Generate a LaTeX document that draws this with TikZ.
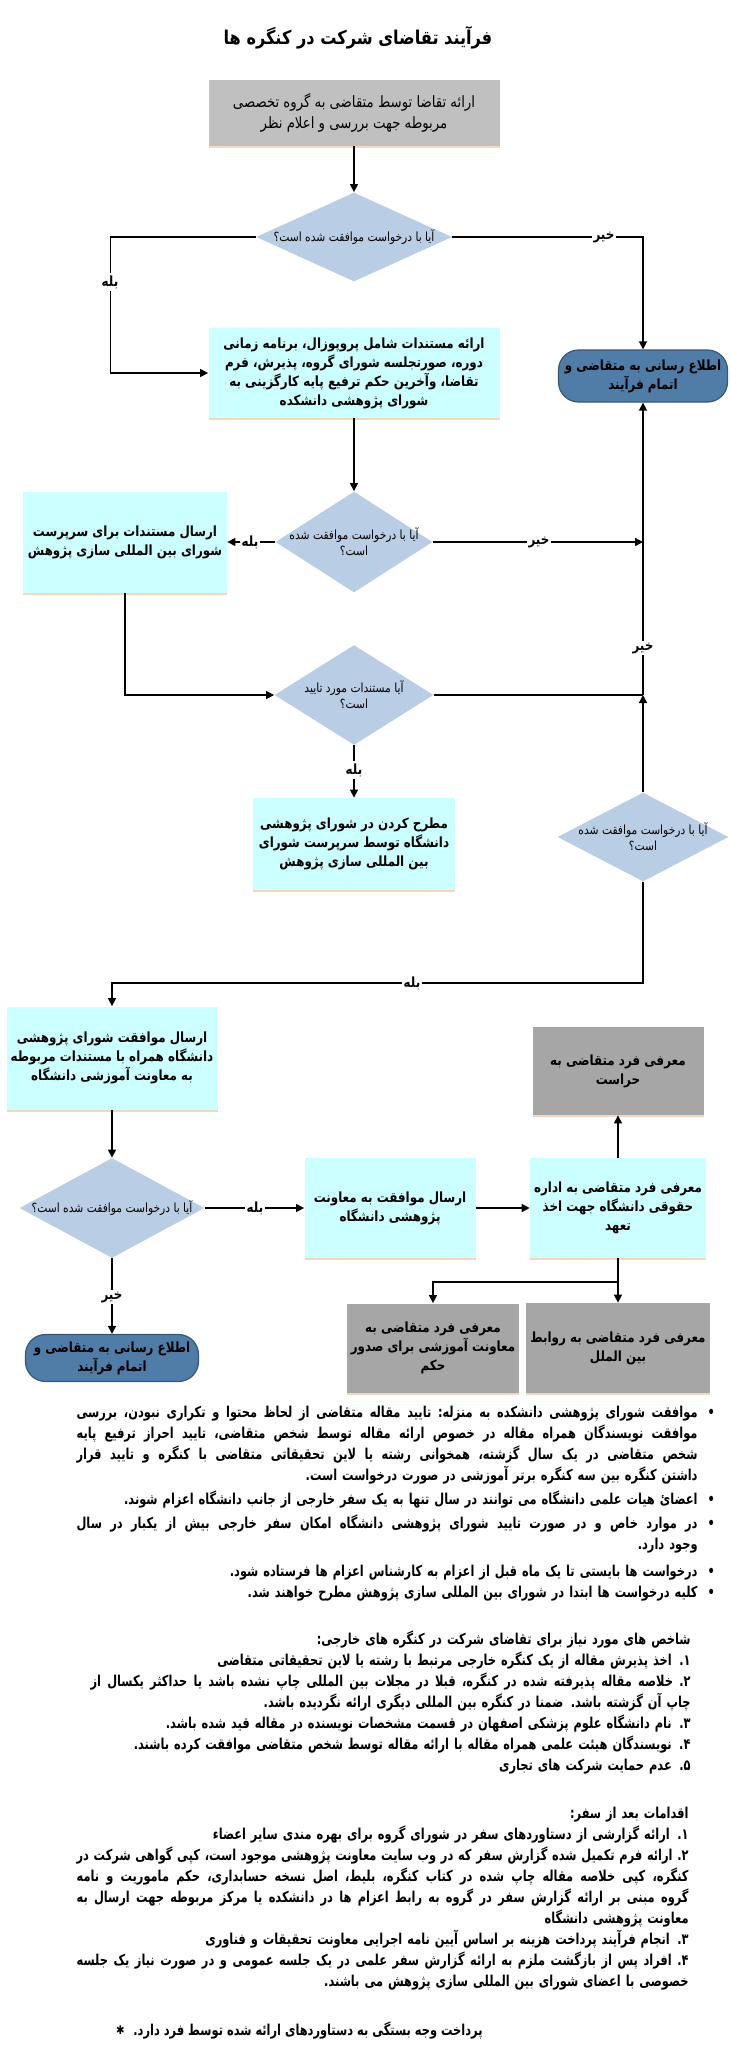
\documentclass[tikz,border=0pt]{standalone}
\usepackage{fontspec}
\usepackage{tikz}
\usetikzlibrary{arrows.meta,positioning,shapes.geometric,calc,shadows}
\TeXXeTstate=1
\newfontfamily\fafont[Script=Arabic,FakeStretch=0.85]{DejaVu Sans}
\newfontfamily\notefont[Script=Arabic,FakeStretch=0.76]{DejaVu Sans}
\definecolor{boxcyan}{RGB}{204,255,255}
\definecolor{boxgray}{RGB}{192,192,192}
\definecolor{boxdark}{RGB}{166,166,166}
\definecolor{diamondblue}{RGB}{185,205,229}
\definecolor{endblue}{RGB}{79,125,168}
\definecolor{shadowpeach}{RGB}{248,214,190}
\newcommand{\fa}[1]{\beginR #1\endR}
\newcommand{\fj}[1]{\noindent\hbox to\hsize{\spaceskip=\fontdimen2\font plus 1fil minus 0.5\fontdimen2\font
  \xspaceskip=\spaceskip\beginR #1\endR}}
\newcommand{\bul}{\rlap{\hspace{5pt}\textbullet}}
\tikzset{
  boxbase/.style={rectangle, align=center, inner sep=2pt,
                  font=\fafont\bfseries\fontsize{7}{9.5}\selectfont,
                  drop shadow={shadow xshift=0pt, shadow yshift=-1pt, fill=shadowpeach, opacity=1}},
  cyanbox/.style={boxbase, fill=boxcyan},
  graybox/.style={boxbase, fill=boxgray, font=\fafont\fontsize{7.8}{10.5}\selectfont},
  darkbox/.style={boxbase, fill=boxdark},
  decision/.style={diamond, fill=diamondblue, inner sep=0pt, inner xsep=-6pt, align=center,
                   font=\fafont\fontsize{6.3}{8}\selectfont},
  endbox/.style={rectangle, rounded corners=10pt, fill=endblue, draw=endblue!70!black,
                 line width=0.6pt, align=center, inner sep=1pt,
                 font=\fafont\bfseries\fontsize{7}{9.5}\selectfont},
  tag/.style={fill=white, inner sep=1pt, font=\fafont\bfseries\fontsize{7}{8}\selectfont},
  flow/.style={line width=0.7pt, -{Triangle[length=4pt,width=4pt]}},
  link/.style={line width=0.7pt},
  notes/.style={align=right, inner sep=0pt, anchor=north east,
                font=\notefont\bfseries\fontsize{7.5}{10.5}\selectfont},
}
\begin{document}
\begin{tikzpicture}[x=0.5pt, y=-0.5pt]
\useasboundingbox (0,0) rectangle (731,2047);

\node[font=\fafont\bfseries\fontsize{9.5}{12}\selectfont] (title) at (358,38) {\fa{فرآیند تقاضای شرکت در کنگره ها}};

% main column
\node[graybox, minimum width=145.5pt, minimum height=33pt] (req) at (354,113)
  {\fa{ارائه تقاضا توسط متقاضی به گروه تخصصی}\\\fa{مربوطه جهت بررسی و اعلام نظر}};
\node[decision, minimum width=98pt, minimum height=44.5pt, aspect=2.2] (d1) at (354,237)
  {\fa{آیا با درخواست موافقت شده است؟}};
\node[cyanbox, minimum width=145.5pt, minimum height=45pt] (docs) at (354,373)
  {\fa{ارائه مستندات شامل پروپوزال، برنامه زمانی}\\\fa{دوره، صورتجلسه شورای گروه، پذیرش، فرم}\\\fa{تقاضا، وآخرین حکم ترفیع پایه کارگزینی به}\\\fa{شورای پژوهشی دانشکده}};
\node[endbox, minimum width=84.5pt, minimum height=26pt] (end1) at (643,376)
  {\fa{اطلاع رسانی به متقاضی و}\\\fa{اتمام فرآیند}};
\node[decision, minimum width=78.5pt, minimum height=50.5pt, aspect=1.55] (d2) at (354,542)
  {\fa{آیا با درخواست موافقت شده}\\\fa{است؟}};
\node[cyanbox, minimum width=102pt, minimum height=50.5pt] (super) at (125,542)
  {\fa{ارسال مستندات برای سرپرست}\\\fa{شورای بین المللی سازی پژوهش}};
\node[decision, minimum width=79.5pt, minimum height=50pt, aspect=1.6] (d3) at (354,695)
  {\fa{آیا مستندات مورد تایید}\\\fa{است؟}};
\node[cyanbox, minimum width=101pt, minimum height=46pt] (council) at (354,844)
  {\fa{مطرح کردن در شورای پژوهشی}\\\fa{دانشگاه توسط سرپرست شورای}\\\fa{بین المللی سازی پژوهش}};
\node[decision, minimum width=85.5pt, minimum height=44.5pt, aspect=1.9] (d4) at (643,837)
  {\fa{آیا با درخواست موافقت شده}\\\fa{است؟}};

% lower part
\node[cyanbox, minimum width=105.5pt, minimum height=51.5pt] (send) at (112,1058)
  {\fa{ارسال موافقت شورای پژوهشی}\\\fa{دانشگاه همراه با مستندات مربوطه}\\\fa{به معاونت آموزشی دانشگاه}};
\node[darkbox, minimum width=85.5pt, minimum height=44pt] (guard) at (618,1071)
  {\fa{معرفی فرد متقاضی به}\\\fa{حراست}};
\node[decision, minimum width=92.5pt, minimum height=50pt, aspect=1.85] (d5) at (112,1208)
  {\fa{آیا با درخواست موافقت شده است؟}};
\node[cyanbox, minimum width=85.5pt, minimum height=50pt] (vice) at (390,1208)
  {\fa{ارسال موافقت به معاونت}\\\fa{پژوهشی دانشگاه}};
\node[cyanbox, minimum width=85.5pt, minimum height=50pt] (legal) at (618,1208)
  {\fa{معرفی فرد متقاضی به اداره}\\\fa{حقوقی دانشگاه جهت اخذ}\\\fa{تعهد}};
\node[darkbox, minimum width=85.5pt, minimum height=44.5pt] (edu) at (433,1348)
  {\fa{معرفی فرد متقاضی به}\\\fa{معاونت آموزشی برای صدور}\\\fa{حکم}};
\node[darkbox, minimum width=86.5pt, minimum height=45pt] (intl) at (618,1348)
  {\fa{معرفی فرد متقاضی به روابط}\\\fa{بین الملل}};
\node[endbox, minimum width=86.5pt, minimum height=23.5pt] (end2) at (112,1358)
  {\fa{اطلاع رسانی به متقاضی و}\\\fa{اتمام فرآیند}};

\coordinate (j2) at (643,542);
\coordinate (j3) at (643,695);
\coordinate (split) at (618,1282);

% connectors
\draw[flow] (req) -- (d1);
\draw[flow] (d1.west) -- ++(-145,0) |- (docs.west);
\draw[flow] (d1.east) -| (end1.north);
\draw[flow] (docs) -- (d2);
\draw[flow] (d2.west) -- (super.east);
\draw[flow] (d2.east) -- (j2);
\draw[flow] (super.south) |- (d3.west);
\draw[link] (d3.east) -- (j3);
\draw[flow] (d4.north) -- (j3);
\draw[flow] (j3) -- (end1.south);
\draw[flow] (d3) -- (council);
\draw[flow] (d4.south) -- ++(0,101) -| (send.north);
\draw[flow] (send) -- (d5);
\draw[flow] (d5.east) -- (vice.west);
\draw[flow] (vice) -- (legal);
\draw[flow] (legal) -- (guard);
\draw[link] (legal.south) -- (split);
\draw[flow] (split) -- (intl.north);
\draw[flow] (split) -| (edu.north);
\draw[flow] (d5) -- (end2);

\node[tag] (yes1) at (110,282) {\fa{بله}};
\node[tag] (no1) at (604,237) {\fa{خیر}};
\node[tag] (yes2) at (250,542) {\fa{بله}};
\node[tag] (no2) at (539,542) {\fa{خیر}};
\node[tag] (no3) at (643,648) {\fa{خیر}};
\node[tag] (yes3) at (354,770) {\fa{بله}};
\node[tag] (yes4) at (412,983) {\fa{بله}};
\node[tag] (yes5) at (255,1208) {\fa{بله}};
\node[tag] (no5) at (112,1297) {\fa{خیر}};

% notes below the chart
\node[notes, text width=310.5pt] (rules) at (698,1406) {%
  \fj{موافقت شورای پژوهشی دانشکده به منزله: تایید مقاله متقاضی از لحاظ محتوا و تکراری نبودن، بررسی}\bul\\
  \fj{موافقت نویسندگان همراه مقاله در خصوص ارائه مقاله توسط شخص متقاضی، تایید احراز ترفیع پایه}\\
  \fj{شخص متقاضی در یک سال گزشته، همخوانی رشته یا لاین تحقیقاتی متقاضی با کنگره و تایید قرار}\\
  \fa{داشتن کنگره بین سه کنگره برتر آموزشی در صورت درخواست است.}\\[1.5pt]
  \fa{اعضائ هیات علمی دانشگاه می توانند در سال تنها به یک سفر خارجی از جانب دانشگاه اعزام شوند.}\bul\\[1.5pt]
  \fj{در موارد خاص و در صورت تایید شورای پژوهشی دانشگاه امکان سفر خارجی بیش از یکبار در سال}\bul\\
  \fa{وجود دارد.}\\[3pt]
  \fa{درخواست ها بایستی تا یک ماه قبل از اعزام به کارشناس اعزام ها فرستاده شود.}\bul\\
  \fa{کلیه درخواست ها ابتدا در شورای بین المللی سازی پژوهش مطرح خواهند شد.}\bul};

\node[notes, text width=300pt] (criteria) at (691,1630) {%
  \fa{شاخص های مورد نیاز برای تقاضای شرکت در کنگره های خارجی:}\\
  \fa{۱\kern0pt. اخذ پذیرش مقاله از یک کنگره خارجی مرتبط با رشته یا لاین تحقیقاتی متقاضی}\\
  \fj{۲\kern0pt. خلاصه مقاله پذیرفته شده در کنگره، قبلا در مجلات بین المللی چاپ نشده باشد یا حداکثر یکسال از}\\
  \fa{چاپ آن گزشته باشد. ضمنا در کنگره بین المللی دیگری ارائه نگردیده باشد.}\\
  \fa{۳\kern0pt. نام دانشگاه علوم پزشکی اصفهان در قسمت مشخصات نویسنده در مقاله قید شده باشد.}\\
  \fa{۴\kern0pt. نویسندگان هیئت علمی همراه مقاله با ارائه مقاله توسط شخص متقاضی موافقت کرده باشند.}\\
  \fa{۵\kern0pt. عدم حمایت شرکت های تجاری}};

\node[notes, text width=306pt] (after) at (689,1807) {%
  \fa{اقدامات بعد از سفر:}\\
  \fa{۱\kern0pt. ارائه گزارشی از دستاوردهای سفر در شورای گروه برای بهره مندی سایر اعضاء}\\
  \fj{۲\kern0pt. ارائه فرم تکمیل شده گزارش سفر که در وب سایت معاونت پژوهشی موجود است، کپی گواهی شرکت در}\\
  \fj{کنگره، کپی خلاصه مقاله چاپ شده در کتاب کنگره، بلیط، اصل نسخه حسابداری، حکم ماموریت و نامه}\\
  \fj{گروه مبنی بر ارائه گزارش سفر در گروه به رابط اعزام ها در دانشکده یا مرکز مربوطه جهت ارسال به}\\
  \fa{معاونت پژوهشی دانشگاه}\\
  \fa{۳\kern0pt. انجام فرآیند پرداخت هزینه بر اساس آیین نامه اجرایی معاونت تحقیقات و فناوری}\\
  \fj{۴\kern0pt. افراد پس از بازگشت ملزم به ارائه گزارش سفر علمی در یک جلسه عمومی و در صورت نیاز یک جلسه}\\
  \fa{خصوصی با اعضای شورای بین المللی سازی پژوهش می باشند.}};

\node[font=\notefont\bfseries\fontsize{7.5}{10.5}\selectfont, anchor=east, inner sep=0pt] (pay) at (483,2030)
  {\fa{پرداخت وجه بستگی به دستاوردهای ارائه شده توسط فرد دارد.}};
\node[font=\fafont\fontsize{6}{8}\selectfont, inner sep=0pt, left=4pt of pay] (star) {✱};
\end{tikzpicture}
\end{document}
